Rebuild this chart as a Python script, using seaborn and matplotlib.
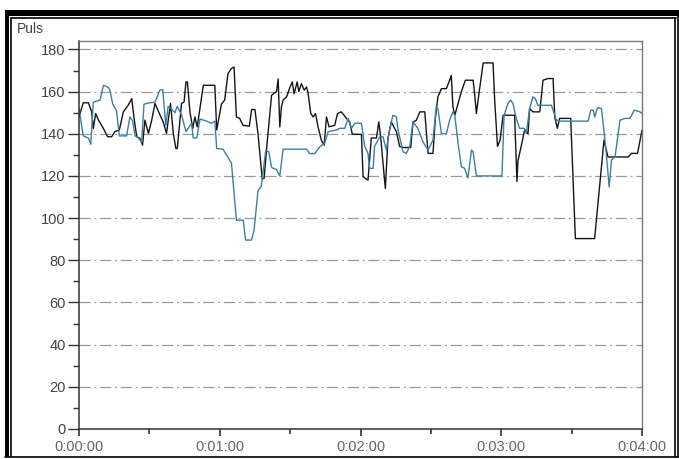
import matplotlib
matplotlib.use("Agg")
import matplotlib.pyplot as plt
from matplotlib.lines import Line2D
from matplotlib.patches import Rectangle
from matplotlib.ticker import MultipleLocator, FuncFormatter
import pandas as pd
import seaborn as sns

# Heart rate ("Puls") of two recordings, time in seconds
black_t = [0, 1.8, 4, 5.4, 6.1, 7.1, 8.3, 10.4, 12.2, 13.9, 15.3, 17.2, 18.9, 21, 22.5,
           23.4, 24.6, 26.0, 27.1, 28.1, 29.6, 31.0, 32.4, 34.5, 35.9, 37.3, 39, 40.2,
           41.3, 41.9, 43.7, 44.8, 45.6, 46.2, 47.3, 48.5, 49.4, 50.4, 53.0, 57.9, 58.7,
           60.7, 62.1, 63.5, 65, 66.1, 67.1, 68.5, 69.9, 72.6, 73.6, 75, 76.3, 78.1, 78.9,
           80.3, 82.1, 84.2, 84.9, 85.6, 86.3, 87, 88.5, 89.9, 90.9, 91.7, 93, 93.7, 94.8,
           96, 97, 97.7, 98.8, 99.8, 100.8, 101.9, 103.3, 104.5, 105.5, 106.6, 109, 110.2,
           111.8, 113, 114, 115.4, 116.5, 120.4, 121.1, 123.2, 124.6, 126.8, 127.8, 128.6,
           129.6, 130.6, 131.7, 133.1, 135.3, 136.7, 138.1, 141.4, 142.4, 143.8, 145.3,
           147.4, 148.8, 150.9, 151.9, 153, 154.5, 156.6, 158, 158.7, 159.4, 160.2, 161.6,
           163, 164.7, 168, 168.7, 169.4, 170.4, 172.3, 176.5, 177.2, 178.4, 179.5, 180.8,
           185.7, 186.7, 187.1, 188.6, 190.0, 191.4, 192.1, 193.5, 196.4, 197.8, 199.9,
           202.1, 202.8, 203.9, 204.9, 209.6, 211.6, 219.8, 223.8, 225.5, 234.1, 235.5,
           238.1, 240]
black_v = [148, 154.7, 154.7, 150.4, 142.5, 149.6, 146.5, 142.5, 138.6, 138.6, 141, 141.8,
           150.4, 153.6, 156.7, 148, 138.6, 137.8, 134.6, 146.5, 140.2, 146.5, 154.4, 149,
           145.6, 140.2, 154.4, 140.2, 133, 133, 154.4, 155.1, 164.6, 164.6, 150.4, 142.5,
           148, 143.3, 163, 163, 141.8,
           154, 156, 168.5, 171, 171.7, 148, 147.3, 144, 143.6, 151.5, 151.5, 140, 118.8,
           118.8, 137, 158.3, 160, 166, 143.3, 152.8, 156, 157.5, 162, 164.6, 159, 164.6,
           160, 163.8, 160.7, 162.2, 159, 149.6, 148, 149.6, 143.3, 137, 134.6, 148, 143.3,
           144, 149.6, 150.4, 148.8, 147.3, 145.6, 139.8, 139.7, 119.6, 118, 138, 138,
           145.6, 138.6, 126, 114, 138, 145.6, 141, 134, 133.5, 133.5, 145.6, 146.4, 150.4,
           150.4, 130.7, 130.7, 147.3, 157.5, 161.4, 161.4, 165.4, 167.7, 152.8, 148.8,
           154.4, 160, 165.4, 165.4, 158.3, 149.6, 158.3, 173.6, 173.6, 156, 134, 137,
           148.8, 148.8, 117.4, 127, 134.6, 142, 140, 152, 150.4, 150.4, 165.4, 166.2,
           166.2, 148, 142.6, 147.3, 147.3, 90.3, 90.3, 137, 129, 129, 130.7, 130.7, 141.7]

blue_t = [0, 1.8, 4, 5, 6.1, 9, 10.4, 12.5, 13.2, 14.4, 16, 17.2, 20.3, 21.7, 22.9, 23.9,
          25.3, 26.7, 27.7, 29.6, 32.4, 34.5, 35.7, 36.3, 37, 38, 39.2, 40.9, 41.9, 43.7,
          45.6, 48, 48.7, 50.2, 51.6, 54.4, 56.5, 57.9, 58.7,
          61.4, 65, 67.1, 70, 71, 73.5, 74.6, 76.3, 77.7, 79.6, 80.9, 82.1, 84.2, 85.6, 87,
          97, 98.3, 100.5, 102.6, 104.7, 106.2, 109.7, 111.2, 113.3, 114.7, 116.1, 117.6,
          120.4, 121.8, 123.2, 123.9, 125.4, 126, 128.2, 129.6, 131, 132.4, 133.8, 135.3,
          136, 138.1, 139.5, 141, 142.4, 144.5, 146.7, 148.8, 150.9, 152.3, 153, 154.5,
          156.6, 158, 159.4, 160.2, 161.6, 163, 164.4, 165.8, 167.3, 168, 169.4, 180.3,
          181.2, 182.9, 184, 185, 186.4, 187.8, 189.7, 190.7, 192.1, 193.5, 194.5, 195.6,
          201.4, 203.5, 205.6, 217, 218.2, 219.2, 219.9, 221, 222.7, 223.9, 224.9, 226,
          227, 228.5, 230.6, 232.7, 234.9, 236.7, 239.1, 240]
blue_v = [152, 139, 138, 135, 155, 156, 163, 162, 160.5, 154, 151, 139, 139, 148, 146, 139,
          138, 136, 154, 154.6, 155, 160.7, 161, 153, 144, 153, 152, 150, 153, 149, 141,
          145, 138, 138, 147, 146, 145, 146, 133,
          132.7, 126, 99, 99, 89.6, 89.6, 94, 113, 115, 132, 131.5, 124, 123, 120, 132.7,
          132.7, 130.6, 130.6, 133.8, 135.4, 141, 141.8, 142.6, 142.6, 147.3, 142.6, 145,
          145, 134, 130.7, 123.6, 123.6, 134, 138.6, 138.6, 132.3, 141.8, 148.8, 148,
          141.8, 131.5, 130.7, 134, 145.7, 142.5, 136, 132.3, 137, 152.8, 152, 140,
          140, 146.5, 150.4, 148.8, 135.4, 124.4, 123.6, 119, 132.3, 131.5, 120, 120,
          148.8, 154.4, 156, 154.4, 147.3, 142.6, 142.6, 140.2, 152, 157.5, 156.7, 153.5,
          153.5, 146.5, 146, 146, 151.2, 151.2, 148, 152.4, 152, 140.2, 129, 114.8,
          127.6, 129, 146.4, 147.3, 147.3, 151.2, 150.4, 149.6]

y_ticks = [0, 20, 40, 60, 80, 100, 120, 140, 160, 180]
x_ticks = [0, 60, 120, 180, 240]
x_labels = ["0:00:00", "0:01:00", "0:02:00", "0:03:00", "0:04:00"]

df = pd.concat([
    pd.DataFrame({"t": black_t, "puls": black_v, "serie": "A"}),
    pd.DataFrame({"t": blue_t, "puls": blue_v, "serie": "B"}),
])

sns.set_theme(style="white")
plt.rcParams["font.family"] = ["Liberation Sans", "DejaVu Sans"]

W, H = 679, 459
fig = plt.figure(figsize=(W / 100, H / 100), dpi=100)
fig.patch.set_facecolor("white")


def px(x0, y0, x1, y1):
    return [x0 / W, 1 - y1 / H, (x1 - x0) / W, (y1 - y0) / H]


ax = fig.add_axes(px(79, 41, 642, 429))

# horizontal dash-dot grid at the labelled levels
for y in y_ticks[1:]:
    ax.axhline(y, color="#9a9a9a", lw=0.9, ls=(0, (9, 3, 1.5, 3)), zorder=0)

sns.lineplot(data=df, x="t", y="puls", hue="serie", palette={"A": "#151515", "B": "#3d7ea3"},
             estimator=None, sort=False, lw=1.0, legend=False, ax=ax)

ax.set_xlim(0, 240)
ax.set_ylim(0, 184)
ax.set_xticks(x_ticks)
ax.set_xticklabels(x_labels)
ax.xaxis.set_minor_locator(MultipleLocator(30))
ax.set_yticks(y_ticks)
ax.yaxis.set_minor_locator(MultipleLocator(10))
ax.set_xlabel("")
ax.set_ylabel("")

ax.tick_params(axis="y", which="major", direction="out", length=8, width=1, color="#333333",
               pad=1.5, labelsize=10.5, labelcolor="#444444", left=True)
ax.tick_params(axis="y", which="minor", direction="out", length=4.5, width=1, color="#333333",
               left=True)
ax.tick_params(axis="x", which="major", direction="out", length=5, width=1.2, color="#333333",
               pad=3, labelsize=10.5, labelcolor="#666666", bottom=True)
ax.tick_params(axis="x", which="minor", direction="out", length=3.5, width=1.2, color="#333333",
               bottom=True)

for side in ["left", "bottom"]:
    ax.spines[side].set_color("#333333")
    ax.spines[side].set_linewidth(1.1)
for side in ["top", "right"]:
    ax.spines[side].set_color("#777777")
    ax.spines[side].set_linewidth(1.0)

fig.text(17 / W, 1 - 33 / H, "Puls", fontsize=10, color="#444444", va="baseline", ha="left")

# window frame around the chart
frame = [
    Rectangle((5 / W, 1 - 16 / H), 674 / W, 6 / H),      # top bar
    Rectangle((5 / W, 1 - 457 / H), 4 / W, 447 / H),     # left bar
]
for r in frame:
    r.set_transform(fig.transFigure)
    r.set_facecolor("black")
    r.set_edgecolor("none")
    fig.patches.append(r)

lines = [
    ((11, 676), (18, 18)),
    ((11, 11), (18, 456)),
    ((5, 679), (457, 457)),
    ((675, 675), (18, 457)),
    ((678, 678), (16, 457)),
]
for xs, ys in lines:
    fig.add_artist(Line2D([x / W for x in xs], [1 - y / H for y in ys],
                          transform=fig.transFigure, color="black", lw=1.2))

fig.savefig("out.png", dpi=100)
